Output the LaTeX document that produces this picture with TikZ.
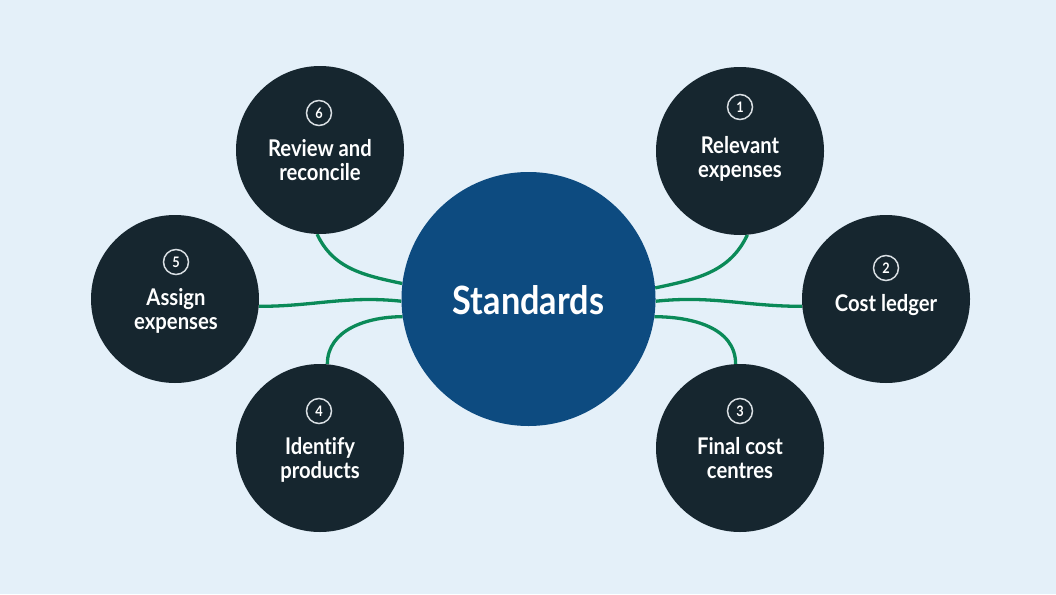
\documentclass[tikz,border=0pt]{standalone}
\usepackage{fontspec}
\setmainfont{Lato}[FakeStretch=0.88, Ligatures=NoCommon]
\usetikzlibrary{backgrounds}
\definecolor{bg}{HTML}{E4F0F9}
\definecolor{navy}{HTML}{16262F}
\definecolor{hub}{HTML}{0D4B80}
\definecolor{link}{HTML}{0A8A58}
\definecolor{ring}{HTML}{D8DEE2}
\tikzset{
  stepcirc/.style={circle, fill=navy, minimum size=168pt, inner sep=0pt},
  hubcirc/.style={circle, fill=hub, minimum size=254pt, inner sep=0pt},
  numcirc/.style={circle, draw=ring, line width=1.5pt, minimum size=25pt, inner sep=0pt,
    text=white, font=\bfseries\fontsize{14.5}{14.5}\selectfont},
  steptext/.style={text=white, align=center, anchor=north, inner sep=0pt,
    font=\bfseries\fontsize{23}{24}\selectfont},
  connector/.style={draw=link, line width=3.3pt},
}
\begin{document}
\begin{tikzpicture}[x=1pt,y=-1pt]
\useasboundingbox (0,0) rectangle (1056,594);
\begin{scope}[on background layer]
\fill[bg] (0,0) rectangle (1056,594);
\end{scope}
% hub
\node[hubcirc] (S) at (528.5,299) {};
\node[text=white, font=\bfseries\fontsize{39}{39}\selectfont] (St) at (528.5,300) {Standards};
% step circles
\node[stepcirc] (c1) at (740,151) {};
\node[stepcirc] (c2) at (886,299) {};
\node[stepcirc] (c3) at (740,448) {};
\node[stepcirc] (c4) at (320,448) {};
\node[stepcirc] (c5) at (175,299) {};
\node[stepcirc] (c6) at (320,150) {};
% numbers
\node[numcirc] (n1) at (740,107) {1};
\node[numcirc] (n2) at (886,268) {2};
\node[numcirc] (n3) at (740,411) {3};
\node[numcirc] (n4) at (319,411) {4};
\node[numcirc] (n5) at (176,262) {5};
\node[numcirc] (n6) at (319,113) {6};
% labels
\node[steptext] (t1) at (740,136) {Relevant\\expenses};
\node[steptext] (t2) at (886,294) {Cost ledger};
\node[steptext] (t3) at (740,437) {Final cost\\centres};
\node[steptext] (t4) at (320,437) {Identify\\products};
\node[steptext] (t5) at (176,288) {Assign\\expenses};
\node[steptext] (t6) at (320,139) {Review and\\reconcile};
% connectors
\begin{scope}[on background layer]
\draw[connector] (S.5.5) to[out=12,in=-115] (c1.-85);
\draw[connector] (S.-1.4) to[out=6,in=180] (c2.185.5);
\draw[connector] (S.-8) to[out=0,in=90] (c3.93);
\draw[connector] (S.173) to[out=168,in=-65] (c6.-92);
\draw[connector] (S.181) to[out=174,in=0] (c5.-5);
\draw[connector] (S.188) to[out=180,in=90] (c4.85);
\end{scope}
\end{tikzpicture}
\end{document}
